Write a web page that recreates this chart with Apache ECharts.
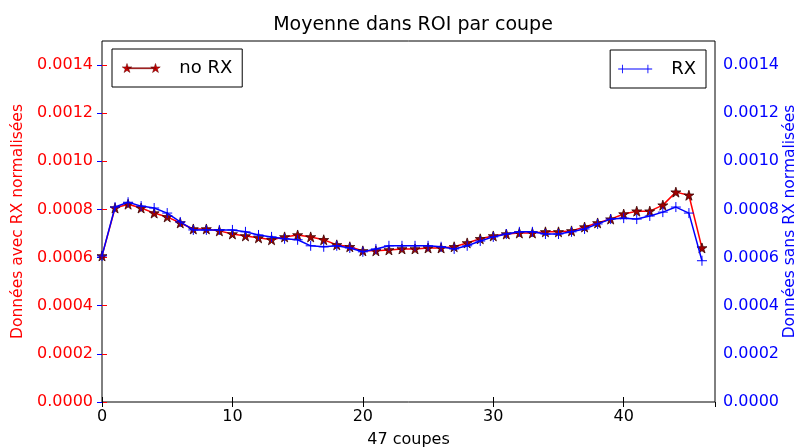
<!DOCTYPE html>
<html>
<head>
<meta charset="utf-8">
<script src="https://cdn.jsdelivr.net/npm/echarts@6/dist/echarts.min.js"></script>
<style>html,body{margin:0;padding:0;background:#fff;}#c{width:797px;height:447px;}</style>
</head>
<body>
<div id="c"></div>
<script>
const slices = Array.from({length: 47}, (_, i) => i);
const noRX = [0.000607,0.000806,0.000822,0.000806,0.000785,0.000769,0.000744,0.000719,0.000719,0.000711,
  0.000698,0.000690,0.000682,0.000674,0.000686,0.000694,0.000686,0.000674,0.000653,0.000645,
  0.000628,0.000628,0.000632,0.000636,0.000636,0.000640,0.000640,0.000645,0.000661,0.000678,
  0.000690,0.000698,0.000702,0.000702,0.000707,0.000707,0.000711,0.000727,0.000744,0.000760,
  0.000781,0.000793,0.000793,0.000818,0.000872,0.000859,0.000640];
const RX = [0.000607,0.000810,0.000830,0.000814,0.000806,0.000785,0.000748,0.000715,0.000715,0.000715,
  0.000715,0.000707,0.000694,0.000686,0.000678,0.000674,0.000649,0.000645,0.000649,0.000640,
  0.000624,0.000636,0.000649,0.000649,0.000649,0.000649,0.000645,0.000636,0.000649,0.000669,
  0.000686,0.000698,0.000707,0.000707,0.000698,0.000698,0.000707,0.000719,0.000740,0.000760,
  0.000764,0.000760,0.000773,0.000789,0.000810,0.000785,0.000587];
const xTicks = [0, 10, 20, 30, 40];
const yTicks = [0, 0.0002, 0.0004, 0.0006, 0.0008, 0.0010, 0.0012, 0.0014];

const FONT = 'DejaVu Sans';
const star = 'path://M5,0L6.2,3.6L10,3.6L6.9,5.9L8.1,9.5L5,7.3L1.9,9.5L3.1,5.9L0,3.6L3.8,3.6Z';
const plus = 'path://M0,5L10,5M5,0L5,10';
const legStar = 'path://M5,4.5L35,4.5L35,5.5L5,5.5Z' +
  'M5,0L6.2,3.6L10,3.6L6.9,5.9L8.1,9.5L5,7.3L1.9,9.5L3.1,5.9L0,3.6L3.8,3.6Z' +
  'M35,0L36.2,3.6L40,3.6L36.9,5.9L38.1,9.5L35,7.3L31.9,9.5L33.1,5.9L30,3.6L33.8,3.6Z';
const legPlus = 'path://M0,4.5L40,4.5L40,5.5L0,5.5ZM4.5,0L5.5,0L5.5,10L4.5,10ZM34.5,0L35.5,0L35.5,10L34.5,10Z';

const chart = echarts.init(document.getElementById('c'), null, {renderer: 'canvas'});
const fmt = v => v.toFixed(4);
chart.setOption({
  animation: false,
  backgroundColor: '#fff',
  textStyle: {fontFamily: FONT},
  title: {text: 'Moyenne dans ROI par coupe', left: 408, textAlign: 'center', top: 11,
    textStyle: {fontFamily: FONT, fontSize: 19, fontWeight: 'normal', color: '#000'}},
  grid: {left: 102, right: 82, top: 41, bottom: 45, show: true, borderColor: '#000', borderWidth: 1,
    backgroundColor: 'transparent', containLabel: false, outerBoundsMode: 'none'},
  legend: [
    {data: [{name: 'no RX', icon: legStar, itemStyle: {color: '#cc0000', borderColor: '#600000', borderWidth: 0.5}}], left: 112, top: 49,
      padding: [10, 10, 10, 10], itemWidth: 38, itemHeight: 10, itemGap: 10,
      borderColor: '#000', borderWidth: 1, backgroundColor: '#fff', borderRadius: 0,
      textStyle: {fontFamily: FONT, fontSize: 18, color: '#000', padding: [0, 0, 0, 14]}},
    {data: [{name: 'RX', icon: legPlus, itemStyle: {color: '#0000ff', borderWidth: 0}}], right: 91, top: 50,
      padding: [10, 10, 10, 8], itemWidth: 34, itemHeight: 10,
      borderColor: '#000', borderWidth: 1, backgroundColor: '#fff', borderRadius: 0,
      textStyle: {fontFamily: FONT, fontSize: 18, color: '#000', padding: [0, 0, 0, 14]}}
  ],
  xAxis: [
    {type: 'value', min: 0, max: 47, interval: 10, name: '47 coupes', nameLocation: 'middle', nameGap: 30,
      nameTextStyle: {fontFamily: FONT, fontSize: 16, color: '#000'},
      axisLine: {show: false}, splitLine: {show: false},
      axisTick: {inside: true, length: 5, lineStyle: {color: '#000'}},
      axisLabel: {showMaxLabel: false, margin: 7, fontFamily: FONT, fontSize: 16, color: '#000',
        formatter: v => xTicks.includes(v) ? String(v) : ''}},
    {type: 'value', position: 'top', min: 0, max: 47, interval: 10,
      axisLine: {show: false}, splitLine: {show: false}, axisLabel: {show: false},
      axisTick: {inside: true, length: 5, lineStyle: {color: '#000'}}}
  ],
  yAxis: [
    {type: 'value', min: 0, max: 0.0015, interval: 0.0002, position: 'left',
      name: 'Données avec RX normalisées', nameLocation: 'middle', nameGap: 84, nameMoveOverlap: false,
      nameTextStyle: {fontFamily: FONT, fontSize: 15.5, color: '#ff0000', verticalAlign: 'middle'},
      axisLine: {show: false}, splitLine: {show: false},
      axisTick: {inside: true, length: 5, lineStyle: {color: '#ff0000'}},
      axisLabel: {showMaxLabel: false, margin: 9, fontFamily: FONT, fontSize: 16, color: '#ff0000',
        formatter: fmt}},
    {type: 'value', min: 0, max: 0.0015, interval: 0.0002, position: 'right',
      name: 'Données sans RX normalisées', nameLocation: 'middle', nameGap: 75, nameRotate: 90, nameMoveOverlap: false,
      nameTextStyle: {fontFamily: FONT, fontSize: 15.5, color: '#0000ff', verticalAlign: 'middle'},
      axisLine: {show: false}, splitLine: {show: false},
      axisTick: {inside: true, length: 5, lineStyle: {color: '#0000ff'}},
      axisLabel: {showMaxLabel: false, margin: 8, fontFamily: FONT, fontSize: 16, color: '#0000ff',
        formatter: fmt}}
  ],
  series: [
    {name: 'no RX', type: 'line', xAxisIndex: 0, yAxisIndex: 0,
      data: slices.map((x, i) => [x, noRX[i]]),
      symbol: star, symbolSize: 10, showAllSymbol: true,
      lineStyle: {color: '#ff0000', width: 1.5},
      itemStyle: {color: '#a00000', borderColor: '#3a0000', borderWidth: 0.8}, z: 2},
    {name: 'RX', type: 'line', xAxisIndex: 0, yAxisIndex: 1,
      data: slices.map((x, i) => [x, RX[i]]),
      symbol: plus, symbolSize: 10, showAllSymbol: true,
      lineStyle: {color: '#0000ff', width: 1.5},
      itemStyle: {color: '#0000ff', borderColor: '#0000ff', borderWidth: 1}, z: 3}
  ]
});
</script>
</body>
</html>
